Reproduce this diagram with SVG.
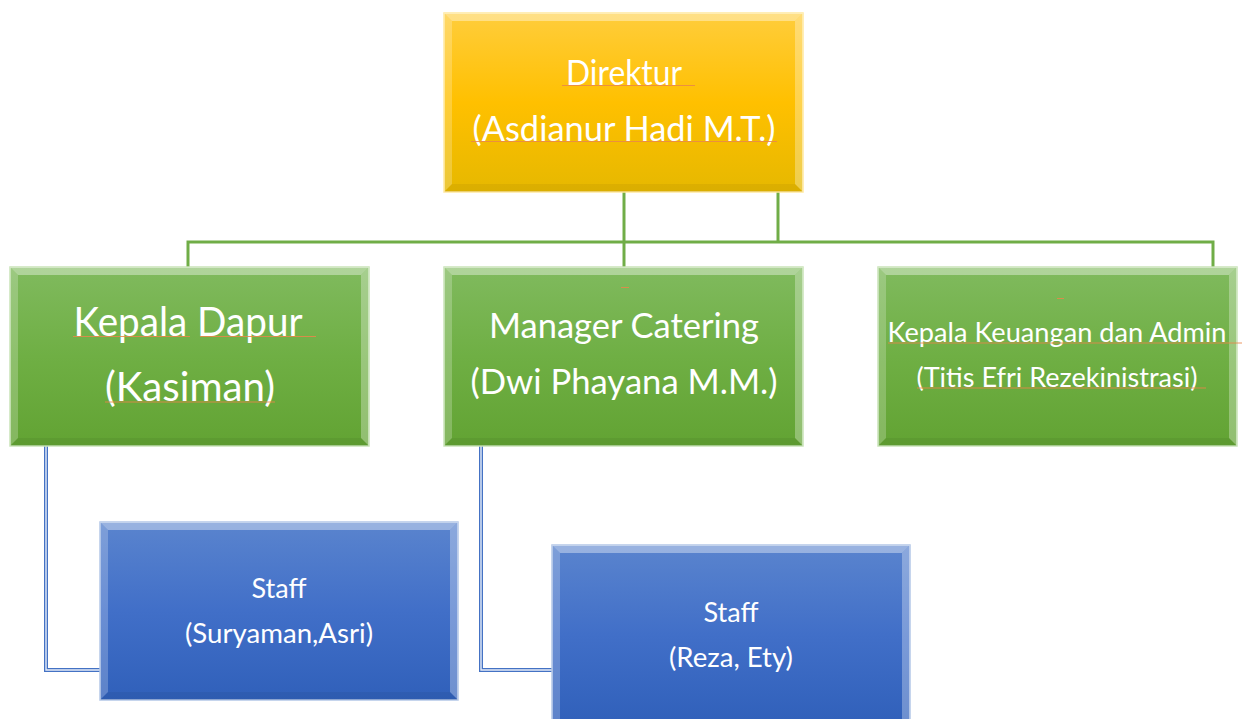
<svg xmlns="http://www.w3.org/2000/svg" width="1242" height="719" viewBox="0 0 1242 719">
<defs>
<linearGradient id="gGold" x1="0" y1="0" x2="0" y2="1">
<stop offset="0" stop-color="#FFCD3C"/><stop offset="0.5" stop-color="#FFC000"/><stop offset="1" stop-color="#E6B800"/>
</linearGradient>
<linearGradient id="gGreen" x1="0" y1="0" x2="0" y2="1">
<stop offset="0" stop-color="#80BA5E"/><stop offset="0.5" stop-color="#6FAF44"/><stop offset="1" stop-color="#62A333"/>
</linearGradient>
<linearGradient id="gBlue" x1="0" y1="0" x2="0" y2="1">
<stop offset="0" stop-color="#5A84CE"/><stop offset="0.5" stop-color="#416FC8"/><stop offset="1" stop-color="#3060BA"/>
</linearGradient>
<style>
.bt{fill:#fff;fill-opacity:0.38}
.bl{fill:#fff;fill-opacity:0.22}
.br{fill:#fff;fill-opacity:0.3}
.bb{fill:#000;fill-opacity:0.05}
.gold{fill:url(#gGold);stroke:#FFE9A0;stroke-width:1.5}
.green{fill:url(#gGreen);stroke:#C9E4B8;stroke-width:1.5}
.blue{fill:url(#gBlue);stroke:#B4C7E7;stroke-width:1.5}
text{font-family:Lato,"Liberation Sans",sans-serif;fill:#fff;text-anchor:middle}
.sq{stroke:#E9874A;stroke-width:1;fill:none;opacity:0.85}
.cg{fill:none;stroke:#70AD47;stroke-width:3}
.cb{fill:none;stroke:#4472C4;stroke-width:4}
.cbi{fill:none;stroke:#E6EDF8;stroke-width:1.4}
</style>
</defs>
<rect width="1242" height="719" fill="#fff"/>
<g id="connectors">
<polyline class="cg" points="624,192 624,267"/>
<polyline class="cg" points="778,192 778,242"/>
<polyline class="cg" points="188,267 188,242 1213,242 1213,267"/>
<polyline class="cb" points="46,446 46,670 100,670"/>
<polyline class="cbi" points="46,446 46,670 100,670"/>
<polyline class="cb" points="481,446 481,670 552,670"/>
<polyline class="cbi" points="481,446 481,670 552,670"/>
</g>
<g id="direktur">
<rect class="gold" x="444" y="13" width="359" height="179"/>
<polygon class="bt" points="444,13 803,13 795,21 452,21"/>
<polygon class="bl" points="444,13 452,21 452,184 444,192"/>
<polygon class="br" points="803,13 803,192 795,184 795,21"/>
<polygon class="bb" points="444,192 452,184 795,184 803,192"/>
<text x="624" y="85" font-size="34" textLength="116" lengthAdjust="spacingAndGlyphs">Direktur</text>
<text x="624" y="141" font-size="34" textLength="303" lengthAdjust="spacingAndGlyphs">(Asdianur Hadi M.T.)</text>
<line class="sq" x1="562" y1="85.5" x2="695" y2="85.5"/>
<line class="sq" x1="471" y1="141.5" x2="777" y2="141.5"/>
</g>
<g id="kepala-dapur">
<rect class="green" x="10" y="267" width="359" height="179"/>
<polygon class="bt" points="10,267 369,267 361,275 18,275"/>
<polygon class="bl" points="10,267 18,275 18,438 10,446"/>
<polygon class="br" points="369,267 369,446 361,438 361,275"/>
<polygon class="bb" points="10,446 18,438 361,438 369,446"/>
<text x="188" y="336" font-size="40" textLength="229" lengthAdjust="spacingAndGlyphs">Kepala Dapur</text>
<text x="190" y="401" font-size="40" textLength="170" lengthAdjust="spacingAndGlyphs">(Kasiman)</text>
<line class="sq" x1="73" y1="336.5" x2="190" y2="336.5"/>
<line class="sq" x1="200" y1="336.5" x2="316" y2="336.5"/>
<line class="sq" x1="105" y1="402" x2="275" y2="402"/>
</g>
<g id="manager-catering">
<rect class="green" x="444" y="267" width="359" height="179"/>
<polygon class="bt" points="444,267 803,267 795,275 452,275"/>
<polygon class="bl" points="444,267 452,275 452,438 444,446"/>
<polygon class="br" points="803,267 803,446 795,438 795,275"/>
<polygon class="bb" points="444,446 452,438 795,438 803,446"/>
<line class="sq" x1="621" y1="287.5" x2="629" y2="287.5"/>
<text x="624" y="338" font-size="35" textLength="270" lengthAdjust="spacingAndGlyphs">Manager Catering</text>
<text x="624" y="394" font-size="35" textLength="307" lengthAdjust="spacingAndGlyphs">(Dwi Phayana M.M.)</text>
</g>
<g id="kepala-keuangan">
<rect class="green" x="878" y="267" width="359" height="179"/>
<polygon class="bt" points="878,267 1237,267 1229,275 886,275"/>
<polygon class="bl" points="878,267 886,275 886,438 878,446"/>
<polygon class="br" points="1237,267 1237,446 1229,438 1229,275"/>
<polygon class="bb" points="878,446 886,438 1229,438 1237,446"/>
<line class="sq" x1="1057" y1="298.5" x2="1064" y2="298.5"/>
<text x="1057" y="342" font-size="27" textLength="339" lengthAdjust="spacingAndGlyphs">Kepala Keuangan dan Admin</text>
<text x="1057" y="387" font-size="27" textLength="281" lengthAdjust="spacingAndGlyphs">(Titis Efri Rezekinistrasi)</text>
<line class="sq" x1="888" y1="343" x2="1242" y2="343"/>
<line class="sq" x1="917" y1="388" x2="1206" y2="388"/>
</g>
<g id="staff-dapur">
<rect class="blue" x="100" y="522" width="358" height="178"/>
<polygon class="bt" points="100,522 458,522 450,530 108,530"/>
<polygon class="bl" points="100,522 108,530 108,692 100,700"/>
<polygon class="br" points="458,522 458,700 450,692 450,530"/>
<polygon class="bb" points="100,700 108,692 450,692 458,700"/>
<text x="279" y="598" font-size="27" textLength="55" lengthAdjust="spacingAndGlyphs">Staff</text>
<text x="279" y="643" font-size="27" textLength="188" lengthAdjust="spacingAndGlyphs">(Suryaman,Asri)</text>
</g>
<g id="staff-catering">
<rect class="blue" x="552" y="545" width="358" height="180"/>
<polygon class="bt" points="552,545 910,545 902,553 560,553"/>
<polygon class="bl" points="552,545 560,553 560,725 552,725"/>
<polygon class="br" points="910,545 910,725 902,725 902,553"/>
<text x="731" y="622" font-size="27" textLength="55" lengthAdjust="spacingAndGlyphs">Staff</text>
<text x="731" y="667" font-size="27" textLength="124" lengthAdjust="spacingAndGlyphs">(Reza, Ety)</text>
</g>
</svg>
